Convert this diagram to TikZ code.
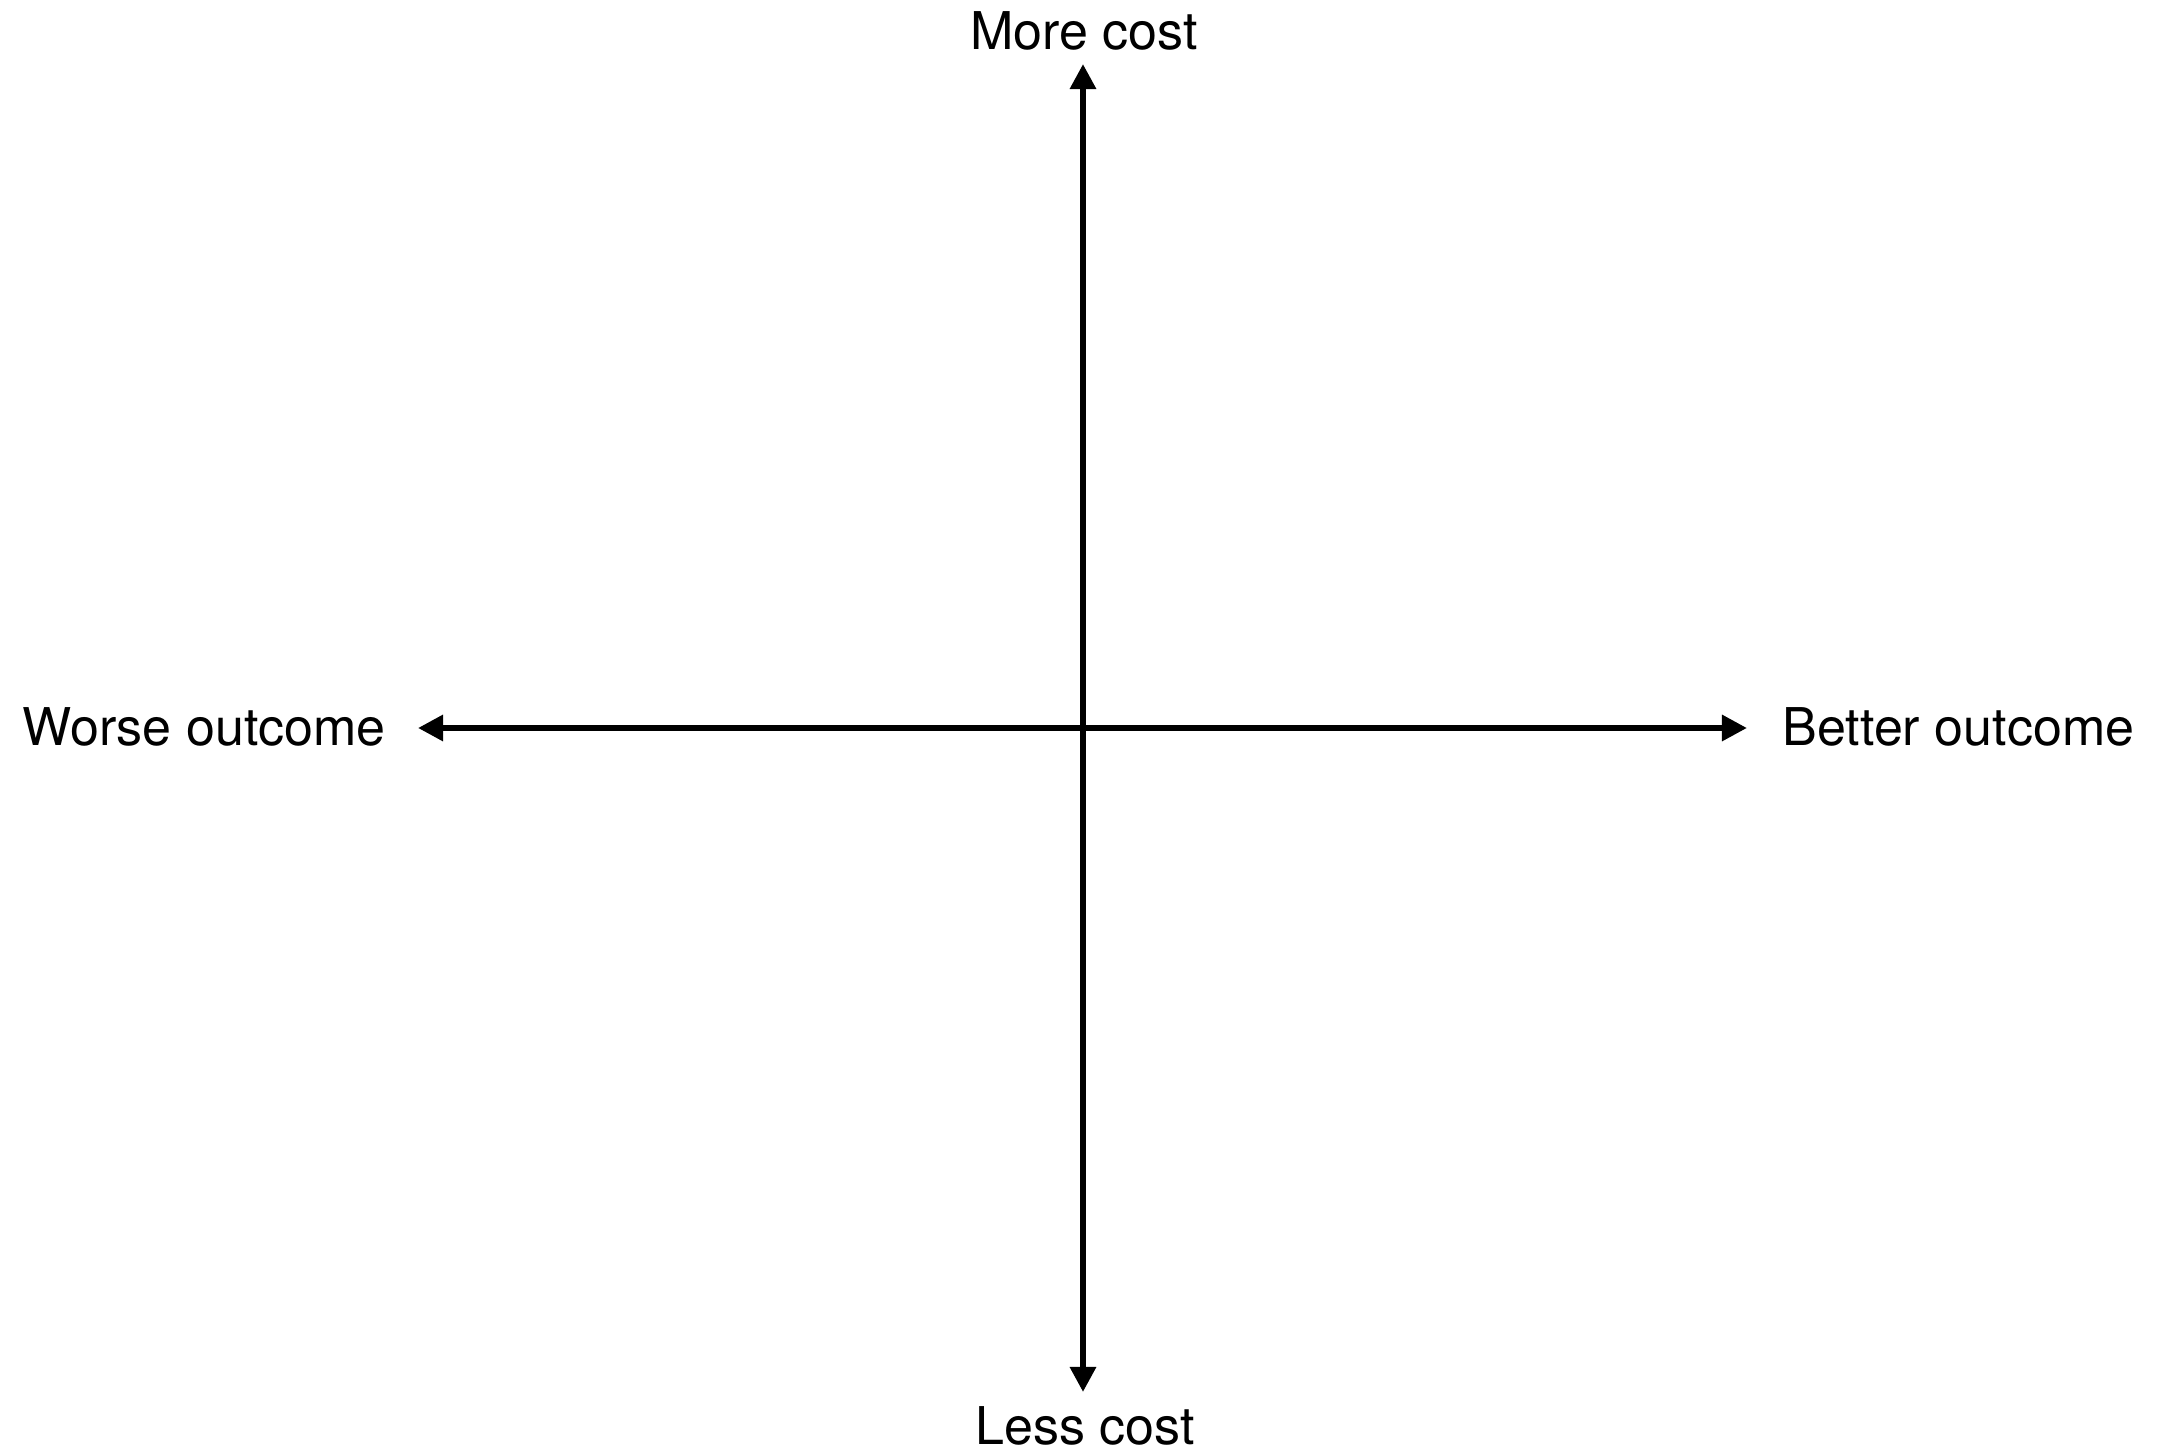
\documentclass[tikz,border=0pt]{standalone}
\usepackage{fontspec}
\setmainfont{TeX Gyre Heros}
\usepackage{tikz}
\usetikzlibrary{arrows.meta, positioning, calc}
\tikzset{
  axisarrow/.style={
    -{Triangle[length=0.25cm, width=0.25cm]}, line width=1.7pt, color=black
  },
  axislabel/.style={
    font=\fontsize{14.8pt}{16pt}\selectfont, inner sep=0pt, text=black
  },
}

\begin{document}
\begin{tikzpicture}[x=0.01cm, y=-0.01cm]
  % Canvas
  \useasboundingbox (0,0) rectangle (2162,1455);

  % Axis ends
  \coordinate (origin) at (1083,728);
  \coordinate (up) at (1083,64);
  \coordinate (down) at (1083,1392);
  \coordinate (left) at (418,728);
  \coordinate (right) at (1747,728);

  % Labels
  \node[axislabel, anchor=base] (morecost) at (1084,50) {More cost};
  \node[axislabel, anchor=base] (lesscost) at (1085,1445) {Less cost};
  \node[axislabel, anchor=base west] (worse) at (22,746) {Worse outcome};
  \node[axislabel, anchor=base west] (better) at (1782,746) {Better outcome};

  % Axes
  \draw[axisarrow] (origin) -- (up);
  \draw[axisarrow] (origin) -- (down);
  \draw[axisarrow] (origin) -- (left);
  \draw[axisarrow] (origin) -- (right);
\end{tikzpicture}
\end{document}
